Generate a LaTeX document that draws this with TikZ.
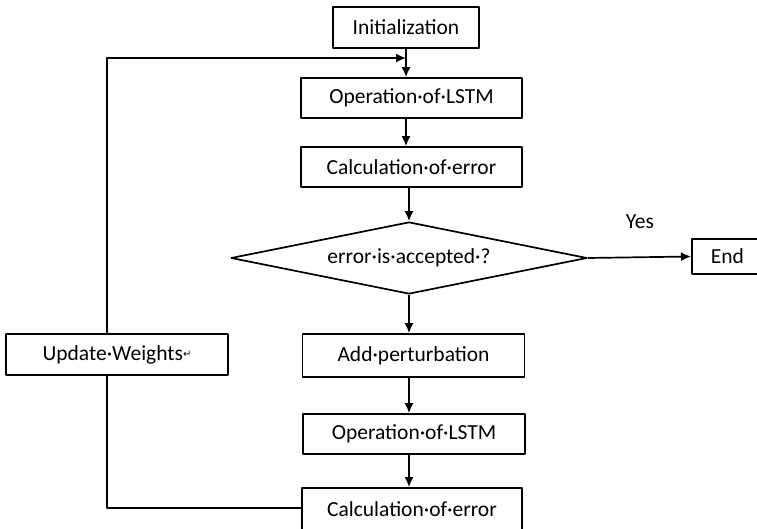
\documentclass[tikz,border=0pt]{standalone}
\usepackage{fontspec}
\setmainfont{Carlito}
\newfontfamily\symfont{DejaVu Sans}
\usetikzlibrary{shapes.geometric,arrows.meta}

\newcommand{\retmark}{{\symfont\fontsize{10}{10}\selectfont\raisebox{0.4ex}{↵}}}

\begin{document}
\begin{tikzpicture}[x=1pt, y=-1pt, line width=1.7pt, line join=round,
    font=\fontsize{21.5}{25}\selectfont,
    box/.style={draw, rectangle, inner sep=0pt, minimum width=221, minimum height=40},
    decision/.style={draw, diamond, aspect=4.9, inner sep=0pt, minimum width=356, minimum height=72},
    flow/.style={-{Latex[length=10pt,width=9pt]}}]
                \useasboundingbox (0, 0) rectangle (757, 529);

                % main column
                \node[box, minimum width=146, minimum height=41] (init) at (406, 27.5) {Initialization};
                \node[box] (op1) at (411.5, 98) {Operation·of·LSTM};
                \node[box] (calc1) at (411.5, 167) {Calculation·of·error};
                \node[decision] (check) at (409, 258) {error·is·accepted·?};
                \node[box, minimum width=222, minimum height=43] (pert) at (413.5, 355.5) {Add·perturbation};
                \node[box, minimum width=222] (op2) at (414, 434) {Operation·of·LSTM};
                \node[box, minimum width=220, minimum height=42] (calc2) at (412, 509) {Calculation·of·error};

                % side boxes
                \node[box, minimum width=222, minimum height=41] (upd) at (117, 354.5) {Update·Weights\retmark};
                \node[box, anchor=west, minimum width=90, minimum height=35, text width=80, align=left] (end) at (691, 256.5) {\hspace*{14pt}End};
                \node (yes) at (640, 222) {Yes};

                % arrows down
                \draw[flow] (init.south) -- (init.south |- op1.north);
                \draw[flow] (op1.south -| 406, 0) -- (calc1.north -| 406, 0);
                \draw[flow] (calc1.south -| check.north) -- (check.north);
                \draw[flow] (check.south) -- (check.south |- pert.north);
                \draw[flow] (pert.south -| 409, 0) -- (op2.north -| 409, 0);
                \draw[flow] (op2.south -| 409, 0) -- (calc2.north -| 409, 0);
                \draw[flow] (check.east) -- (end.west);

                % feedback loop
                \coordinate (loopbot) at (107, 508);
                \coordinate (looptop) at (107, 58);
                \draw (calc2.west |- loopbot) -- (loopbot) -- (loopbot |- upd.south);
                \draw[flow] (upd.north -| looptop) -- (looptop) -- (406, 58);
            \end{tikzpicture}
\end{document}
